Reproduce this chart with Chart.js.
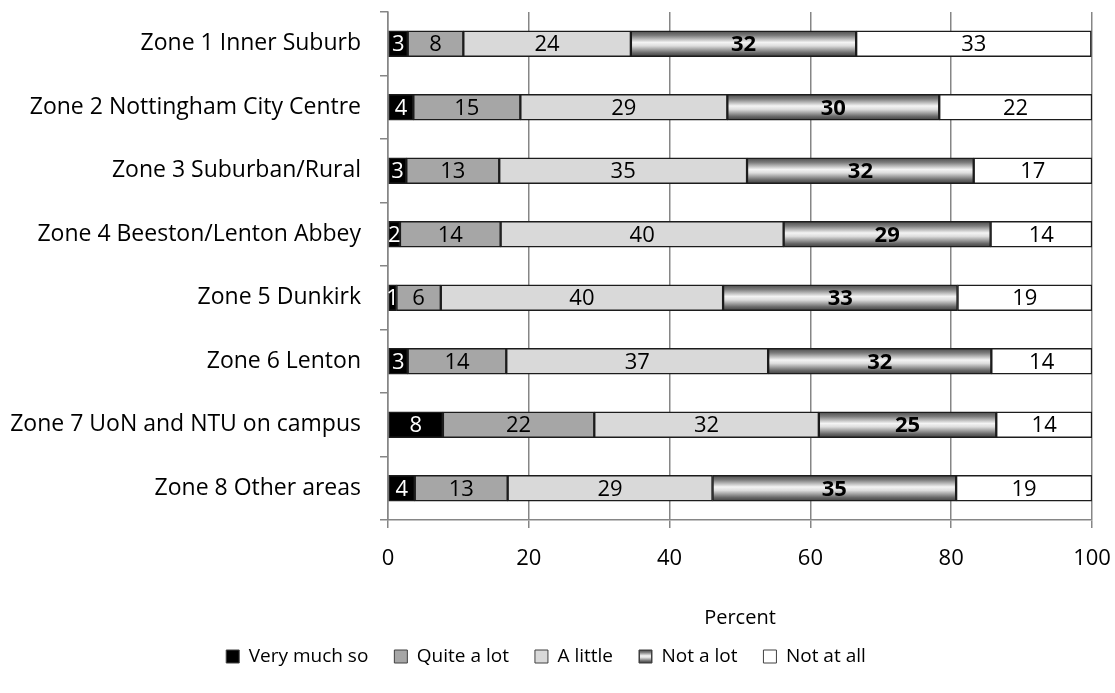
<!DOCTYPE html>
<html>
<head>
<meta charset="utf-8">
<title>Zones</title>
<script src="https://cdn.jsdelivr.net/npm/chart.js@4/dist/chart.umd.min.js"></script>
<style>
  html, body { margin: 0; padding: 0; background: #ffffff; }
  #wrap { width: 1115px; height: 693px; }
</style>
</head>
<body>
<div id="wrap"><canvas id="chart" width="1115" height="693"></canvas></div>
<script>
// Survey zones (top to bottom)
const zones = [
  'Zone 1 Inner Suburb',
  'Zone 2 Nottingham City Centre',
  'Zone 3 Suburban/Rural',
  'Zone 4 Beeston/Lenton Abbey',
  'Zone 5 Dunkirk',
  'Zone 6 Lenton',
  'Zone 7 UoN and NTU on campus',
  'Zone 8 Other areas'
];

// Percent of respondents per answer
const veryMuchSo = [2.8, 3.6, 2.6, 1.7, 1.2, 2.8, 7.8, 3.8];
const quiteALot  = [7.9, 15.2, 13.2, 14.3, 6.3, 14.0, 21.5, 13.2];
const aLittle    = [23.8, 29.4, 35.2, 40.2, 40.1, 37.2, 31.9, 29.1];
const notALot    = [32.0, 30.1, 32.2, 29.4, 33.3, 31.7, 25.2, 34.6];
const notAtAll   = [33.4, 21.7, 16.8, 14.4, 19.1, 14.3, 13.6, 19.3];

const seriesNames = ['Very much so', 'Quite a lot', 'A little', 'Not a lot', 'Not at all'];
const xTicks = [0, 20, 40, 60, 80, 100];

const FONT = '"Open Sans", "DejaVu Sans", sans-serif';
const BAR = 26;
const GRID = '#868686';
const EDGE = '#1c1c1c';

// Banded metallic fill for "Not a lot"
function bandGradient(ctx2d, top, bottom) {
  const g = ctx2d.createLinearGradient(0, top, 0, bottom);
  g.addColorStop(0.0, '#4a4a4a');
  g.addColorStop(0.18, '#7c7c7c');
  g.addColorStop(0.45, '#f4f4f4');
  g.addColorStop(0.58, '#dedede');
  g.addColorStop(0.85, '#6a6a6a');
  g.addColorStop(1.0, '#3e3e3e');
  return g;
}

function notALotFill(context) {
  const chart = context.chart;
  const y = chart.scales && chart.scales.y;
  if (!y || context.type !== 'data') return '#8c8c8c';
  const c = y.getPixelForValue(context.dataIndex);
  if (!Number.isFinite(c)) return '#8c8c8c';
  return bandGradient(chart.ctx, c - BAR / 2, c + BAR / 2);
}

// Value labels centred inside each segment
const segmentLabels = {
  id: 'segmentLabels',
  afterDatasetsDraw(chart) {
    const ctx = chart.ctx;
    ctx.save();
    ctx.textAlign = 'center';
    ctx.textBaseline = 'middle';
    chart.data.datasets.forEach((ds, di) => {
      const meta = chart.getDatasetMeta(di);
      if (meta.hidden) return;
      ctx.fillStyle = di === 0 ? '#ffffff' : '#000000';
      ctx.font = (di === 3 ? 'bold ' : '') + '22px ' + FONT;
      meta.data.forEach((bar, i) => {
        const v = ds.data[i];
        const x = (bar.x + bar.base) / 2;
        ctx.fillText(String(Math.round(v)), x, bar.y + 1);
      });
    });
    ctx.restore();
  }
};

// Legend swatch for the banded series
const legendSwatch = {
  id: 'legendSwatch',
  afterDraw(chart) {
    const lg = chart.legend;
    if (!lg || !lg.legendHitBoxes || !lg.legendHitBoxes[3]) return;
    const hb = lg.legendHitBoxes[3];
    const bw = lg.options.labels.boxWidth;
    const bh = lg.options.labels.boxHeight;
    const bx = hb.left;
    const by = hb.top + (hb.height - bh) / 2;
    const ctx = chart.ctx;
    ctx.save();
    ctx.fillStyle = bandGradient(ctx, by, by + bh);
    ctx.fillRect(bx, by, bw, bh);
    ctx.strokeStyle = '#404040';
    ctx.lineWidth = 1;
    ctx.strokeRect(bx + 0.5, by + 0.5, bw - 1, bh - 1);
    ctx.restore();
  }
};

const fills = ['#000000', '#a6a6a6', '#d9d9d9', notALotFill, '#ffffff'];
const values = [veryMuchSo, quiteALot, aLittle, notALot, notAtAll];

const datasets = seriesNames.map((name, i) => ({
  label: name,
  data: values[i],
  backgroundColor: fills[i],
  borderColor: EDGE,
  borderWidth: 1.5,
  borderSkipped: false,
  barThickness: BAR
}));

new Chart(document.getElementById('chart'), {
  type: 'bar',
  data: { labels: zones, datasets },
  options: {
    indexAxis: 'y',
    responsive: false,
    animation: false,
    layout: { padding: { top: 12, right: 23, bottom: 17, left: 0 } },
    scales: {
      x: {
        stacked: true,
        min: 0,
        max: 100,
        afterBuildTicks(scale) { scale.ticks = xTicks.map(v => ({ value: v })); },
        afterFit(scale) {
          scale.height = 101;
          scale.paddingLeft = 0;
          scale.paddingRight = 0;
        },
        grid: { color: GRID, lineWidth: 1.5, drawTicks: true, tickLength: 8, tickColor: GRID },
        border: { color: GRID, width: 1.5 },
        ticks: { color: '#000', font: { family: FONT, size: 22 }, padding: 18, maxRotation: 0 },
        title: { display: true, text: 'Percent', color: '#000', font: { family: FONT, size: 20 }, padding: { top: 4, bottom: -9 } }
      },
      y: {
        stacked: true,
        afterFit(scale) {
          scale.width = 388;
          scale.paddingTop = 0;
          scale.paddingBottom = 0;
        },
        grid: { offset: true, drawOnChartArea: false, drawTicks: true, tickLength: 8, color: GRID, lineWidth: 1.5 },
        border: { color: GRID, width: 1.5 },
        ticks: { color: '#000', font: { family: FONT, size: 23 }, padding: 19, autoSkip: false }
      }
    },
    plugins: {
      legend: {
        position: 'bottom',
        labels: {
          color: '#000',
          font: { family: FONT, size: 19 },
          boxWidth: 13,
          boxHeight: 13,
          padding: 26,
          generateLabels(chart) {
            return chart.data.datasets.map((ds, i) => ({
              text: ds.label,
              fillStyle: typeof fills[i] === 'string' ? fills[i] : '#8c8c8c',
              strokeStyle: '#404040',
              lineWidth: 1,
              hidden: false,
              datasetIndex: i,
              fontColor: '#000'
            }));
          }
        }
      },
      tooltip: { enabled: false }
    }
  },
  plugins: [segmentLabels, legendSwatch]
});
</script>
</body>
</html>
